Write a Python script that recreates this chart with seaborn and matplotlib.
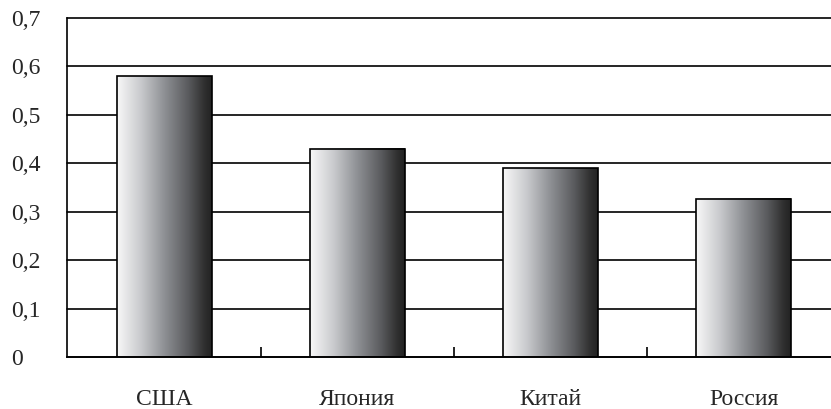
import seaborn as sns
import pandas as pd
import numpy as np
import matplotlib.pyplot as plt
from matplotlib.colors import LinearSegmentedColormap

# data
countries = ["США", "Япония", "Китай", "Россия"]
values = [0.58, 0.43, 0.39, 0.327]
yticks = [0, 0.1, 0.2, 0.3, 0.4, 0.5, 0.6, 0.7]
ytick_labels = ["0", "0,1", "0,2", "0,3", "0,4", "0,5", "0,6", "0,7"]

sns.set_style("white")
plt.rcParams['font.family'] = ['Liberation Serif', 'DejaVu Serif']

fig = plt.figure(figsize=(8.31, 4.09), dpi=100)
ax = fig.add_axes([0.0806, 0.127, 0.9194, 0.829])

df = pd.DataFrame({"country": countries, "value": values})
sns.barplot(data=df, x="country", y="value", width=0.49, color="white",
            edgecolor="black", linewidth=1.2, ax=ax, zorder=3)

# horizontal gradient fill, light on the left, dark on the right
cmap = LinearSegmentedColormap.from_list(
    "bar", [(0, "#f8f8f8"), (0.25, "#c9cacd"), (0.5, "#8e9094"),
            (0.75, "#5a5b5e"), (0.92, "#303030"), (1, "#222222")])
grad = np.linspace(0, 1, 256).reshape(1, -1)
for p in ax.patches:
    x0, y0 = p.get_x(), p.get_y()
    w, h = p.get_width(), p.get_height()
    ax.imshow(grad, cmap=cmap, extent=[x0, x0 + w, y0, y0 + h],
              aspect='auto', zorder=2.5, interpolation='bilinear')
    p.set_facecolor('none')

ax.set_xlim(-0.505, 3.453)
ax.set_ylim(0, 0.7)
ax.set_xlabel("")
ax.set_ylabel("")

# grid
ax.set_yticks(yticks)
ax.set_yticklabels(ytick_labels, fontsize=17)
ax.yaxis.grid(True, color="black", linewidth=1.2)
ax.set_axisbelow(True)
for gl in ax.get_ygridlines():
    gl.set_clip_on(False)

sns.despine(ax=ax, top=True, right=True)
for s in ["left", "bottom"]:
    ax.spines[s].set_color("black")
    ax.spines[s].set_linewidth(1.2)

ax.tick_params(axis='y', length=0, pad=40)
for lbl in ax.get_yticklabels():
    lbl.set_horizontalalignment('left')

ax.set_xticks(range(len(countries)))
ax.set_xticklabels(countries, fontsize=17)
ax.tick_params(axis='x', which='both', bottom=True)
ax.tick_params(axis='x', which='major', length=0, pad=23)
ax.set_xticks([0.5, 1.5, 2.5], minor=True)
ax.tick_params(axis='x', which='minor', direction='in', length=7,
               width=1.2, color='black')

plt.savefig("out.png", dpi=100)
